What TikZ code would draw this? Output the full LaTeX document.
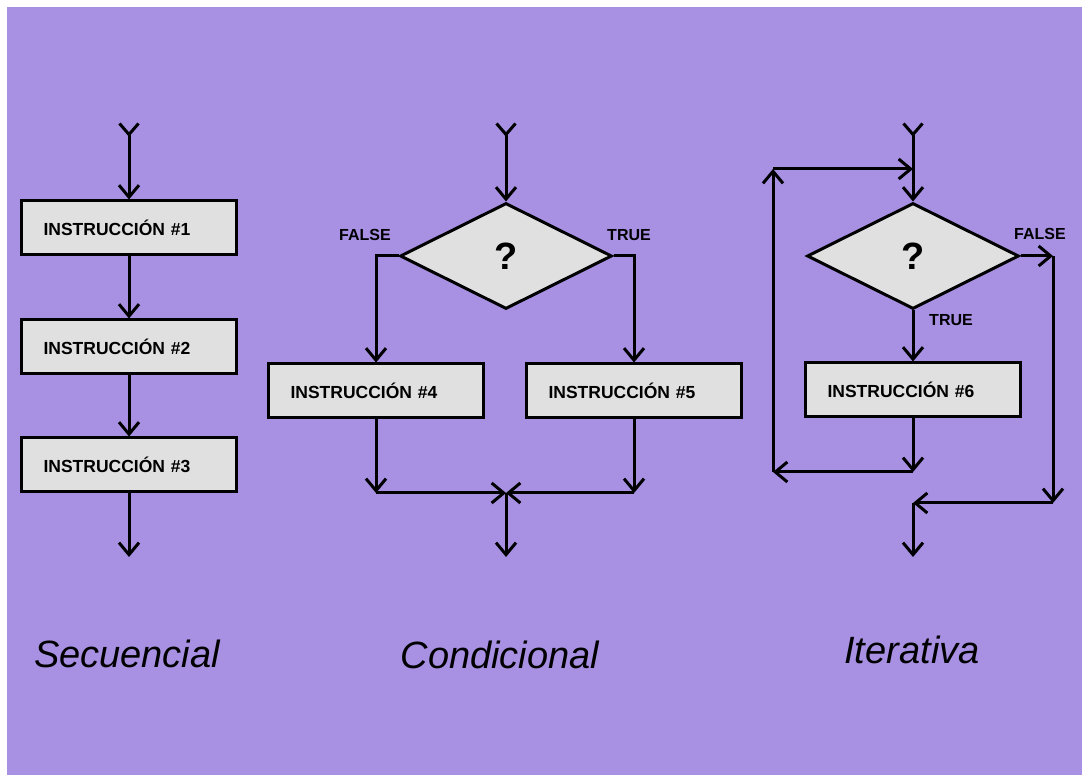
\documentclass[tikz,border=0pt]{standalone}
\usepackage{fontspec}
\setmainfont{Liberation Sans}
\usetikzlibrary{positioning,arrows.meta,shapes.geometric}
\definecolor{bgpurple}{RGB}{168,144,227}
\definecolor{boxgray}{RGB}{224,224,224}

\begin{document}
\begin{tikzpicture}
	[x=1pt, y=-1pt, line width=3pt,
	 instr/.style={draw, fill=boxgray, minimum width=215pt, minimum height=54pt,
		text width=171pt, inner xsep=22pt, align=left,
		font=\fontsize{17.5}{20}\selectfont\bfseries},
	 cond/.style={draw, diamond, fill=boxgray, minimum width=212pt, minimum height=106pt,
		inner sep=0pt, font=\fontsize{38}{40}\selectfont\bfseries},
	 lbl/.style={font=\fontsize{16}{18}\selectfont\bfseries},
	 ttl/.style={anchor=base, font=\fontsize{38}{42}\selectfont\itshape},
	 flow/.style={-{Straight Barb[length=12pt,width=20pt]}},
	 tail/.style={{Straight Barb[reversed,length=11pt,width=19pt]}-{Straight Barb[length=12pt,width=20pt]}}]
	\useasboundingbox (0,0) rectangle (1085,775);
	\fill[white] (0,0) rectangle (1085,775);
	\fill[bgpurple] (7,7) rectangle (1082,775);

	% secuencial
	\coordinate (s0) at (129,122);
	\node[instr] (b1) at (129,228) {INSTRUCCIÓN \#1};
	\node[instr] (b2) at (129,347) {INSTRUCCIÓN \#2};
	\node[instr] (b3) at (129,465) {INSTRUCCIÓN \#3};
	\coordinate (s1) at (129,557);
	\draw[tail] (s0) -- (b1);
	\draw[flow] (b1) -- (b2);
	\draw[flow] (b2) -- (b3);
	\draw[flow] (b3) -- (s1);
	\node[ttl] (T1) at (127,667) {Secuencial};

	% condicional
	\coordinate (c0) at (506,122);
	\node[cond] (D1) at (506,256) {?};
	\node[lbl] at (365,235) {FALSE};
	\node[lbl] at (629,235) {TRUE};
	\node[instr] (b4) at (376,391) {INSTRUCCIÓN \#4};
	\node[instr] (b5) at (634,391) {INSTRUCCIÓN \#5};
	\coordinate (m) at (506,493);
	\coordinate (m4) at (376,493);
	\coordinate (m5) at (634,493);
	\coordinate (c1) at (506,557);
	\draw[tail] (c0) -- (D1);
	\draw[flow] (D1.west) -| (b4);
	\draw[flow] (D1.east) -| (b5);
	\draw[flow] (b4) -- (m4);
	\draw[flow] (m4) -- (m);
	\draw[flow] (b5) -- (m5);
	\draw[flow] (m5) -- (m);
	\draw[flow] (m) -- (c1);
	\node[ttl] (T2) at (500,668) {Condicional};

	% iterativa
	\coordinate (i0) at (913,122);
	\coordinate (i1) at (913,169);
	\node[cond] (D2) at (913,256) {?};
	\node[lbl] at (1040,234) {FALSE};
	\node[lbl] at (951,320) {TRUE};
	\node[instr] (b6) at (913,390) {INSTRUCCIÓN \#6};
	\coordinate (i2) at (913,472);
	\coordinate (L1) at (773,472);
	\coordinate (L2) at (773,169);
	\coordinate (R1) at (1053,256);
	\coordinate (R2) at (1053,503);
	\coordinate (i3) at (913,503);
	\coordinate (i4) at (913,557);
	\draw[tail] (i0) -- (D2);
	\draw[flow] (L2) -- (i1);
	\draw[flow] (D2) -- (b6);
	\draw[flow] (b6) -- (i2);
	\draw[flow] (i2) -- (L1);
	\draw[flow] (L1) -- (L2);
	\draw[flow] (D2.east) -- (R1);
	\draw[flow] (R1) -- (R2);
	\draw[flow] (R2) -- (i3);
	\draw[flow] (i3) -- (i4);
	\node[ttl] (T3) at (912,663) {Iterativa};
\end{tikzpicture}
\end{document}
